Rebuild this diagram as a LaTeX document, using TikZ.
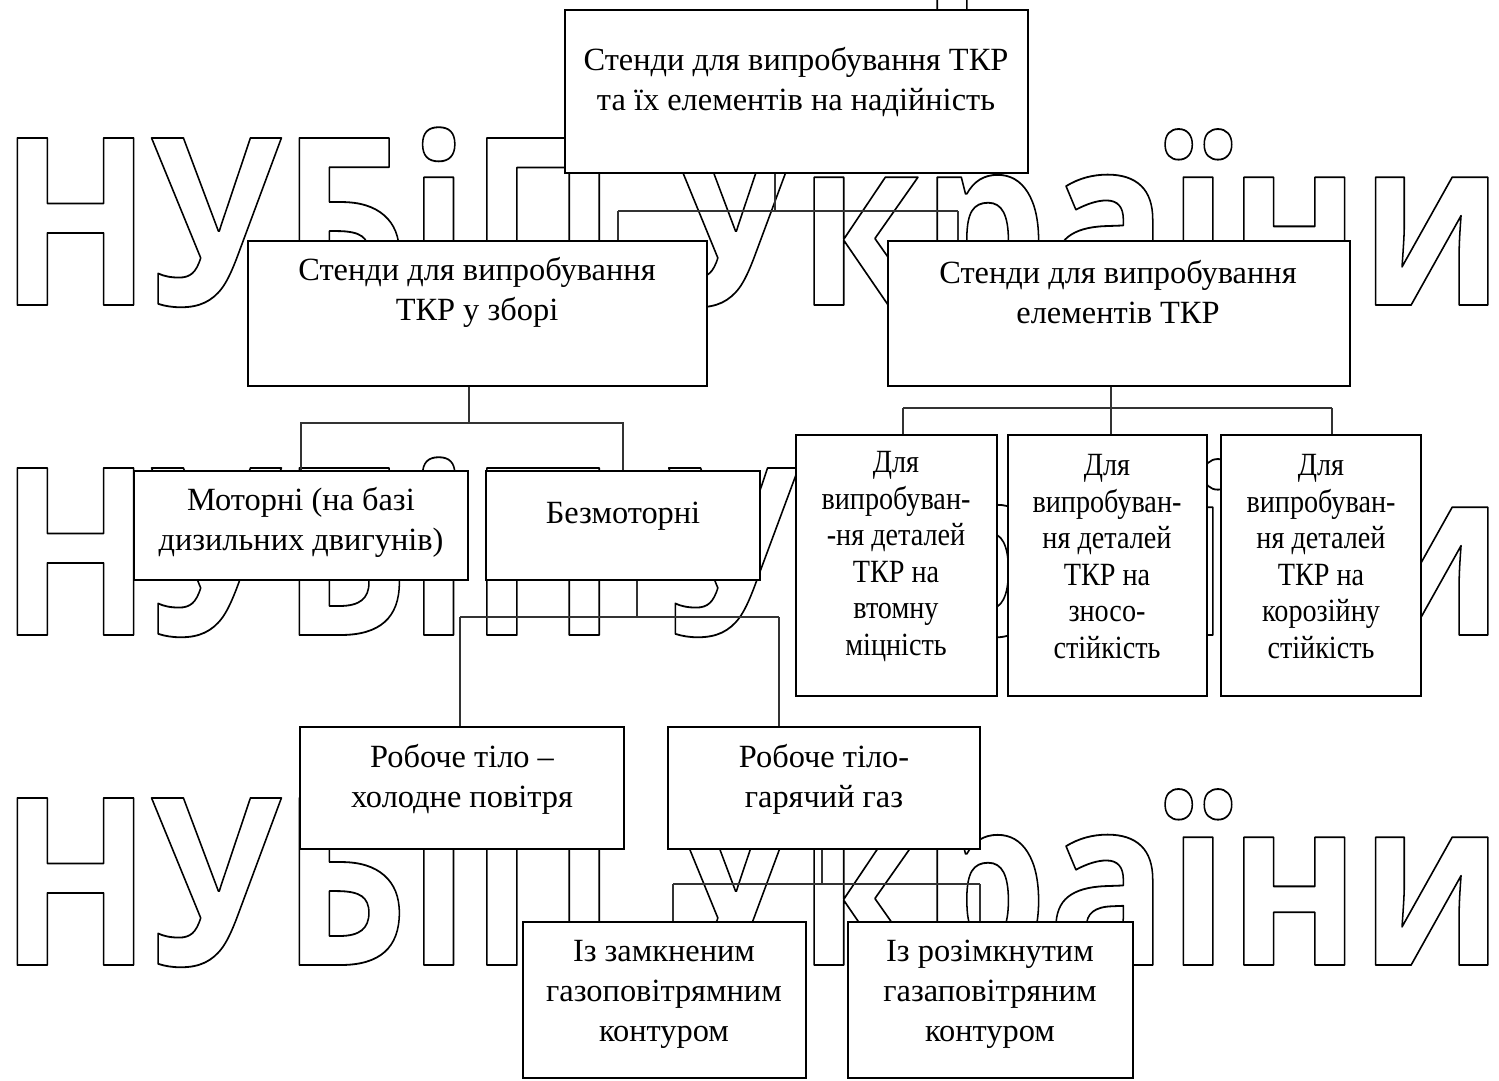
\documentclass[tikz,border=0pt]{standalone}
\usepackage{fontspec}
\setmainfont{Liberation Serif}
\newfontfamily\wmfont{Open Sans}
\newfontfamily\narrowfont{Liberation Serif}[FakeStretch=0.87]
\usepackage{tikz}
\usetikzlibrary{positioning}

% outlined watermark text
\newcommand{\wmstroke}[1]{\special{pdf:literal direct 1 Tr 0.9 w 1 j}#1\special{pdf:literal direct 0 Tr}}
\newcommand{\wmtext}{НУБіП України}

\begin{document}
\begin{tikzpicture}[
  x=0.5pt, y=-0.5pt,
  box/.style={draw, fill=white, line width=1.2pt, inner sep=0pt},
  lbl/.style={align=center, inner sep=0pt, font=\fontsize{16.2pt}{20pt}\selectfont},
  narrow/.style={lbl, font=\narrowfont\fontsize{16.2pt}{18.3pt}\selectfont},
  link/.style={line width=0.6pt, draw=black!80},
  wmark/.style={anchor=base west, inner sep=0pt, font=\wmfont\bfseries\fontsize{117pt}{117pt}\selectfont}
]
\useasboundingbox (0,0) rectangle (1499,1081);

% watermark rows
\foreach \row/\yb in {0/-25, 1/305, 2/635, 3/965}
  \node[wmark] (wm\row) at (-1,\yb) {\scalebox{0.85}[1]{\wmstroke{\wmtext}}};

% junctions
\coordinate (jTop) at (775,211);
\coordinate (jTopL) at (618,211);
\coordinate (jTopR) at (958,211);
\coordinate (jZb) at (469,423);
\coordinate (jEl) at (1111,408);
\coordinate (jEl1) at (903,408);
\coordinate (jEl3) at (1332,408);
\coordinate (jBz) at (637,617);
\coordinate (jBz1) at (460,617);
\coordinate (jBz2) at (779,617);
\coordinate (jHot) at (822,884);
\coordinate (jHot1) at (673,884);
\coordinate (jHot2) at (980,884);

% boxes
\node[box, minimum width=231.5pt, minimum height=81.5pt] (top) at (796.5,91.5) {};
\node[box, minimum width=229.5pt, minimum height=72.5pt] (zbori) at (477.5,313.5) {};
\node[box, minimum width=231pt, minimum height=72.5pt] (elem) at (1119,313.5) {};
\node[box, minimum width=167pt, minimum height=54.5pt] (motor) at (301,525.5) {};
\node[box, minimum width=137pt, minimum height=54.5pt] (bezmotor) at (623,525.5) {};
\node[box, minimum width=100.5pt, minimum height=130.5pt] (d1) at (896.5,565.5) {};
\node[box, minimum width=99.5pt, minimum height=130.5pt] (d2) at (1107.5,565.5) {};
\node[box, minimum width=100pt, minimum height=130.5pt] (d3) at (1321,565.5) {};
\node[box, minimum width=162pt, minimum height=61pt] (cold) at (462,788) {};
\node[box, minimum width=156pt, minimum height=61pt] (hot) at (824,788) {};
\node[box, minimum width=141.5pt, minimum height=78pt] (closed) at (664.5,1000) {};
\node[box, minimum width=142.5pt, minimum height=78pt] (open) at (990.5,1000) {};

% texts
\node[lbl] (topT) at (796,82) {Стенди для випробування ТКР\\та їх елементів на надійність};
\node[lbl] (zboriT) at (477,292) {Стенди для випробування\\ТКР у зборі};
\node[lbl] (elemT) at (1118,292) {Стенди для випробування\\елементів ТКР};
\node[lbl] (motorT) at (301,522) {Моторні (на базі\\дизильних двигунів)};
\node[lbl] (bezmotorT) at (623,516) {Безмоторні};
\node[narrow] (d1T) at (896,556.5) {Для\\випробуван-\\-ня деталей\\ТКР на\\втомну\\міцність};
\node[narrow] (d2T) at (1107,556.5) {Для\\випробуван-\\ня деталей\\ТКР на\\зносо-\\стійкість};
\node[narrow] (d3T) at (1321,556.5) {Для\\випробуван-\\ня деталей\\ТКР на\\корозійну\\стійкість};
\node[lbl] (coldT) at (462,779) {Робоче тіло –\\холодне повітря};
\node[lbl] (hotT) at (824,779) {Робоче тіло-\\гарячий газ};
\node[lbl] (closedT) at (664,994) {Із замкненим\\газоповітрямним\\контуром};
\node[lbl] (openT) at (990,994) {Із розімкнутим\\газаповітряним\\контуром};

% connectors
\draw[link] (top.south -| jTop) -- (jTop);
\draw[link] (jTopL) -- (jTopR);
\draw[link] (jTopL) -- (jTopL |- zbori.north);
\draw[link] (jTopR) -- (jTopR |- elem.north);

\draw[link] (zbori.south -| jZb) -- (jZb);
\draw[link] (motor.north) |- (bezmotor.north |- jZb) -- (bezmotor.north);

\draw[link] (elem.south -| jEl) -- (jEl |- d2.north);
\draw[link] (jEl1) -- (jEl3);
\draw[link] (jEl1) -- (jEl1 |- d1.north);
\draw[link] (jEl3) -- (jEl3 |- d3.north);

\draw[link] (bezmotor.south -| jBz) -- (jBz);
\draw[link] (jBz1) -- (jBz2);
\draw[link] (jBz1) -- (jBz1 |- cold.north);
\draw[link] (jBz2) -- (jBz2 |- hot.north);

\draw[link] (hot.south -| jHot) -- (jHot);
\draw[link] (jHot1) -- (jHot2);
\draw[link] (jHot1) -- (jHot1 |- closed.north);
\draw[link] (jHot2) -- (jHot2 |- open.north);
\end{tikzpicture}
\end{document}
